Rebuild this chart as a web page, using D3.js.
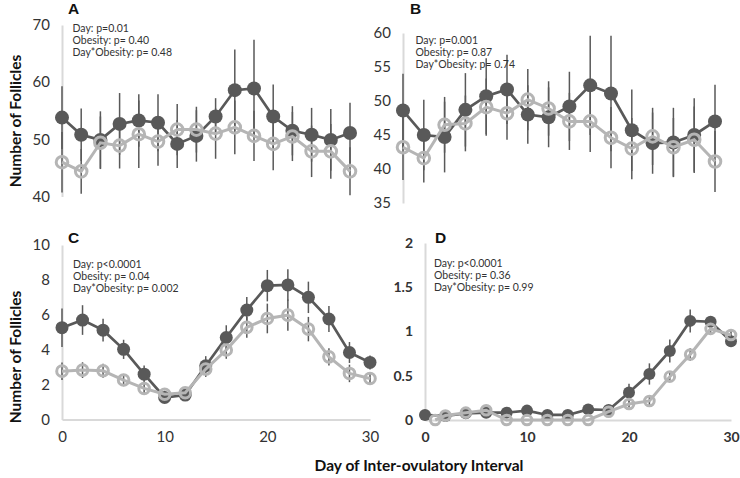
<!DOCTYPE html>
<html><head><meta charset="utf-8">
<script src="https://cdn.jsdelivr.net/npm/d3@7/dist/d3.min.js"></script>
<style>
body{margin:0;background:#fff}
svg text{font-family:Lato,'Open Sans',sans-serif}
</style>
</head><body>
<svg id="chart" width="740" height="478"></svg>
<script>
// ---------- data ----------
const days = [0,2,4,6,8,10,12,14,16,18,20,22,24,26,28,30];
const daysDLight = [1,2,4,6,8,10,12,14,16,18,20,22,24,26,28,30];
const xTicks = [0,10,20,30];

// Panel A
const aDark     = [53.8,50.8,49.9,52.7,53.3,52.9,49.2,50.6,54.0,58.6,58.9,54.0,51.5,50.8,49.9,51.1];
const aDarkSE   = [5.5,4.6,5.0,5.4,4.6,5.0,4.2,4.5,3.2,7.1,8.5,5.6,4.3,4.7,5.4,5.3];
const aLight    = [46.0,44.4,49.4,48.9,50.9,49.6,51.7,51.7,51.0,52.1,50.6,49.2,50.5,47.9,47.9,44.4];
const aLightSE  = [5.3,3.9,4.6,4.0,5.9,4.2,4.5,4.0,4.4,4.7,4.4,4.6,4.3,4.5,4.8,4.2];
const aTicks    = [40,50,60,70];
const aStats    = ["Day: p=0.01","Obesity: p= 0.40","Day*Obesity: p= 0.48"];

// Panel B
const bDark     = [48.6,45.0,44.7,48.7,50.7,51.7,48.0,47.6,49.2,52.3,51.1,45.7,43.8,43.9,45.0,47.0];
const bDarkSE   = [5.4,5.2,5.2,5.4,5.6,5.1,4.3,4.4,5.1,7.3,8.5,6.0,4.5,5.1,5.4,5.4];
const bLight    = [43.2,41.6,46.5,46.7,49.1,48.2,50.2,48.9,47.0,47.0,44.6,43.0,44.8,43.2,44.3,41.1];
const bLightSE  = [4.8,3.6,4.1,4.1,4.2,3.9,4.5,4.0,4.2,4.5,4.5,4.5,4.2,4.3,4.9,4.5];
const bTicks    = [35,40,45,50,55,60];
const bStats    = ["Day: p=0.001","Obesity: p= 0.87","Day*Obesity: p= 0.74"];

// Panel C
const cDark     = [5.26,5.70,5.12,4.02,2.60,1.26,1.40,3.08,4.70,6.27,7.67,7.71,7.00,5.76,3.84,3.27];
const cDarkSE   = [1.1,0.85,0.65,0.55,0.5,0.2,0.2,0.55,0.7,0.75,0.9,0.9,0.9,0.75,0.6,0.4];
const cLight    = [2.77,2.83,2.79,2.26,1.78,1.45,1.53,2.89,3.98,5.28,5.79,5.98,5.18,3.59,2.64,2.35];
const cLightSE  = [0.5,0.45,0.4,0.35,0.35,0.2,0.2,0.45,0.5,0.6,0.85,0.9,0.7,0.5,0.5,0.3];
const cTicks    = [0,2,4,6,8,10];
const cStats    = ["Day: p<0.0001","Obesity: p= 0.04","Day*Obesity: p= 0.002"];

// Panel D
const dDark     = [0.057,0.045,0.075,0.083,0.083,0.106,0.057,0.057,0.12,0.113,0.31,0.52,0.78,1.12,1.11,0.89];
const dDarkSE   = [0.02,0.02,0.03,0.03,0.02,0.03,0.02,0.02,0.03,0.04,0.1,0.12,0.13,0.13,0.06,0.06];
const dLight    = [0,0.05,0.083,0.11,0,0,0,0,0,0.094,0.18,0.215,0.49,0.74,1.03,0.96];
const dLightSE  = [0,0.02,0.03,0.03,0,0,0,0,0,0.03,0.04,0.05,0.06,0.07,0.06,0.05];
const dTicks    = [0,0.5,1,1.5,2];
const dStats    = ["Day: p<0.0001","Obesity: p= 0.36","Day*Obesity: p= 0.99"];

const yTitle = "Number of Follicles";
const xTitle = "Day of Inter-ovulatory Interval";

// ---------- style ----------
const DARK = "#595959", LIGHT = "#b5b5b5", AXIS = "#d9d9d9", TXT = "#333";

const svg = d3.select("#chart");

const panels = [
  {letter:"A", xr:[62,350], yd:[40,70], yr:[196.5,25], ticks:aTicks, dark:aDark, darkSE:aDarkSE, light:aLight, lightSE:aLightSE, lightDays:days, stats:aStats, statsX:72.5, statsY:32, letterX:68, letterY:14, r:7, xaxis:false, bold:false},
  {letter:"B", xr:[403,715], yd:[35,60], yr:[203,33], ticks:bTicks, dark:bDark, darkSE:bDarkSE, light:bLight, lightSE:bLightSE, lightDays:days, stats:bStats, statsX:415.5, statsY:44, letterX:410, letterY:14, r:7, xaxis:false, bold:false},
  {letter:"C", xr:[62,370], yd:[0,10], yr:[419.5,245], ticks:cTicks, dark:cDark, darkSE:cDarkSE, light:cLight, lightSE:cLightSE, lightDays:days, stats:cStats, statsX:73, statsY:268, letterX:68, letterY:243, r:6.5, xaxis:true, bold:false},
  {letter:"D", xr:[425,731], yd:[0,2], yr:[420,243], ticks:dTicks, dark:dDark, darkSE:dDarkSE, light:dLight, lightSE:dLightSE, lightDays:daysDLight, stats:dStats, statsX:434, statsY:267, letterX:435, letterY:243, r:6, xaxis:true, bold:true}
];

panels.forEach(p => {
  const g = svg.append("g");
  const x = d3.scaleLinear().domain([0,30]).range(p.xr);
  const y = d3.scaleLinear().domain(p.yd).range(p.yr);

  // y axis
  const ya = g.append("g").attr("transform", `translate(${p.xr[0]},0)`)
    .call(d3.axisLeft(y).tickValues(p.ticks).tickSize(0).tickPadding(12).tickFormat(d3.format("")));
  ya.select(".domain").attr("stroke", AXIS).attr("stroke-width", 2);
  ya.selectAll("text").attr("fill", TXT).attr("font-size", p.bold ? 14 : 15)
    .attr("font-weight", p.bold ? "bold" : "normal").style("font-family","Lato,'Open Sans',sans-serif");

  if (p.xaxis) {
    const xa = g.append("g").attr("transform", `translate(0,${p.yr[0]})`)
      .call(d3.axisBottom(x).tickValues(xTicks).tickSize(0).tickPadding(12).tickFormat(d3.format("")));
    xa.select(".domain").attr("stroke", AXIS).attr("stroke-width", 2);
    xa.selectAll("text").attr("fill", TXT).attr("font-size", p.bold ? 14 : 15)
      .attr("font-weight", p.bold ? "bold" : "normal").style("font-family","Lato,'Open Sans',sans-serif");
  }

  // error bars
  const eb = (dd, vals, ses) => g.append("g").selectAll("line").data(vals).join("line")
    .attr("x1", (v,i) => x(dd[i])).attr("x2", (v,i) => x(dd[i]))
    .attr("y1", (v,i) => y(v - ses[i])).attr("y2", (v,i) => y(v + ses[i]))
    .attr("stroke", DARK).attr("stroke-width", 1.5);
  eb(days, p.dark, p.darkSE);
  eb(p.lightDays, p.light, p.lightSE);

  const line = dd => d3.line().x((v,i) => x(dd[i])).y(v => y(v));

  // dark series
  g.append("path").datum(p.dark).attr("d", line(days)).attr("fill","none")
    .attr("stroke", DARK).attr("stroke-width", 2.7);
  g.append("g").selectAll("circle").data(p.dark).join("circle")
    .attr("cx", (v,i) => x(days[i])).attr("cy", v => y(v)).attr("r", p.r)
    .attr("fill", DARK);

  // light series
  g.append("path").datum(p.light).attr("d", line(p.lightDays)).attr("fill","none")
    .attr("stroke", LIGHT).attr("stroke-width", 3);
  g.append("g").selectAll("circle").data(p.light).join("circle")
    .attr("cx", (v,i) => x(p.lightDays[i])).attr("cy", v => y(v)).attr("r", p.r - 1.2)
    .attr("fill", "none").attr("stroke", LIGHT).attr("stroke-width", 3);

  // panel letter
  g.append("text").attr("x", p.letterX).attr("y", p.letterY).text(p.letter)
    .attr("font-size", 15.5).attr("font-weight","bold").attr("fill","#111")
    .style("font-family","'Liberation Sans',Arial,sans-serif");

  // stats
  g.append("g").selectAll("text").data(p.stats).join("text")
    .attr("x", p.statsX).attr("y", (s,i) => p.statsY + i*12.2).text(s => s)
    .attr("font-size", 10.5).attr("fill", "#333");
});

// axis titles
[121, 357].forEach(cy => {
  svg.append("text").attr("transform", `translate(21,${cy}) rotate(-90)`)
    .attr("text-anchor","middle").attr("font-size",15.5).attr("font-weight","bold")
    .attr("fill","#111").text(yTitle);
});
svg.append("text").attr("x", 419).attr("y", 471).attr("text-anchor","middle")
  .attr("font-size",15.5).attr("font-weight","bold").attr("fill","#111").text(xTitle);
</script>
</body></html>
